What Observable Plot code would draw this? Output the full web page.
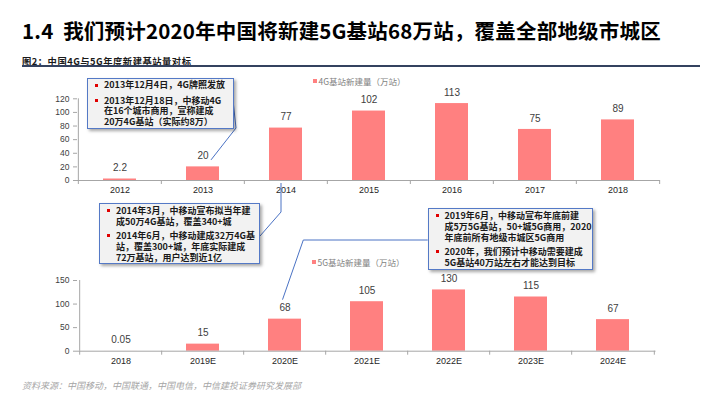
<!DOCTYPE html>
<html>
<head>
<meta charset="utf-8">
<script src="https://cdn.jsdelivr.net/npm/d3@7"></script>
<script src="https://cdn.jsdelivr.net/npm/@observablehq/plot@0.6"></script>
<style>
  body { margin: 0; background: #fff; }
  #root { position: relative; width: 720px; height: 405px; overflow: hidden; background: #fff;
          font-family: "Liberation Sans", Arial, "Noto Sans CJK SC", sans-serif; }
  .abs { position: absolute; }
  .title { left: 22px; top: 16px; font: bold 20.5px/28px "Noto Sans CJK SC", sans-serif; letter-spacing: 0.2px; color: #000; white-space: nowrap; }
  .subtitle { left: 22px; top: 55px; font: bold 9.3px/12px "Noto Sans CJK SC", sans-serif; letter-spacing: 0.5px; color: #1a1a1a; white-space: nowrap; }
  .subline { left: 22px; top: 65px; width: 678px; height: 1.6px; background: #34425f; }
  .legend { font: 8.5px/10px "Noto Sans CJK SC", sans-serif; color: #7f7f7f; white-space: nowrap; display: flex; align-items: center; }
  .legend i { display: inline-block; width: 4px; height: 4px; background: #ff8080; margin-right: 1.5px; }
  .plot { left: 0; }
  .box { box-sizing: border-box; background: #f2f2f2; border: 1.5px solid #5479c6;
         box-shadow: 2px 2px 3px rgba(0,0,0,0.35); z-index: 3;
         font: bold 9px "Noto Sans CJK SC", sans-serif; color: #1a1a1a; white-space: nowrap; padding-left: 16px; }
  .box .p { position: relative; }
  .box .p::before { content: ""; position: absolute; left: -9px; top: var(--top); width: 3px; height: 3px; background: #e00000; }
  .footer { left: 22px; top: 380px; font: italic 9px/12px "Noto Sans CJK SC", sans-serif; color: #a6a6a6; white-space: nowrap; }
  #links { position: absolute; left: 0; top: 0; z-index: 2; pointer-events: none; }
</style>
</head>
<body>
<div id="root">
  <div class="abs title">1.4&nbsp;&nbsp;我们预计2020年中国将新建5G基站68万站，覆盖全部地级市城区</div>
  <div class="abs subtitle">图2：中国4G与5G年度新建基站量对标</div>
  <div class="abs subline"></div>

  <div class="abs legend" style="left:313px; top:76px;"><i></i>4G基站新建量（万站）</div>
  <div class="abs legend" style="left:312px; top:257px;"><i></i>5G基站新建量（万站）</div>

  <div id="top" class="abs plot" style="top:70px;"></div>
  <div id="bottom" class="abs plot" style="top:270px;"></div>

  <div class="abs box" style="left:87px; top:77.5px; width:146.5px; height:51px; line-height:10.5px; padding-top:1.5px;">
    <div class="p">2013年12月4日，4G牌照发放</div>
    <div class="p" style="margin-top:5.2px">2013年12月18日，中移动4G<br>在16个城市商用，宣称建成<br>20万4G基站（实际约8万）</div>
  </div>

  <div class="abs box" style="left:99px; top:202.5px; width:160.5px; height:61.5px; line-height:11px; padding-top:1px;">
    <div class="p">2014年3月，中移动宣布拟当年建<br>成50万4G基站，覆盖340+城</div>
    <div class="p" style="margin-top:3.3px">2014年6月，中移动建成32万4G基<br>站，覆盖300+城，年底实际建成<br>72万基站，用户达到近1亿</div>
  </div>

  <div class="abs box" style="left:427.5px; top:208px; width:165.5px; height:62px; line-height:11px; padding-top:0.7px;">
    <div class="p">2019年6月，中移动宣布年底前建<br>成5万5G基站，50+城5G商用，2020<br>年底前所有地级市城区5G商用</div>
    <div class="p" style="margin-top:3.4px">2020年，我们预计中移动需要建成<br>5G基站40万站左右才能达到目标</div>
  </div>

  <svg id="links" width="720" height="405"></svg>

  <div class="abs footer">资料来源：中国移动，中国联通，中国电信，中信建投证券研究发展部</div>
</div>

<script>
// ---- data ----
const years4G = ["2012", "2013", "2014", "2015", "2016", "2017", "2018"];
const values4G = [2.2, 20, 77, 102, 113, 75, 89];
const ticks4G = [0, 20, 40, 60, 80, 100, 120];

const years5G = ["2018", "2019E", "2020E", "2021E", "2022E", "2023E", "2024E"];
const values5G = [0.05, 15, 68, 105, 130, 115, 67];
const ticks5G = [0, 50, 100, 150];

const BAR = "#ff8080";
const AXIS = "#a6a6a6";

function makeChart(cats, vals, ticks, o) {
  const data = cats.map((c, i) => ({cat: c, val: vals[i]}));
  const yMax = ticks[ticks.length - 1];
  const step = (720 - o.ml - o.mr) / cats.length;
  return Plot.plot({
    width: 720,
    height: o.h,
    marginLeft: o.ml,
    marginRight: o.mr,
    marginTop: o.mt,
    marginBottom: o.mb,
    x: {domain: cats, paddingInner: 0.6, paddingOuter: 0.3, label: null},
    y: {domain: [0, yMax], label: null},
    style: {fontFamily: "'Liberation Sans', Arial, sans-serif", fontSize: "9px", color: "#262626",
            background: "transparent", overflow: "visible"},
    marks: [
      Plot.barY(data, {x: "cat", y: "val", fill: BAR}),
      Plot.ruleY([0], {stroke: AXIS}),
      Plot.ruleX([cats[0]], {x: d => d, y1: 0, y2: yMax, dx: -step / 2, stroke: AXIS}),
      Plot.ruleX(cats, {x: d => d, y1: 0, y2: 0, insetBottom: -4, dx: -step / 2, stroke: AXIS}),
      Plot.ruleX([cats[cats.length - 1]], {x: d => d, y1: 0, y2: 0, insetBottom: -4, dx: step / 2, stroke: AXIS}),
      Plot.axisY(ticks, {tickSize: 4, tickPadding: 4, stroke: AXIS, fill: "#404040", fontSize: 8.5}),
      Plot.axisX({tickSize: 0, tickPadding: 6, fill: "#262626", fontSize: 9}),
      Plot.text(data, {x: "cat", y: "val", text: d => String(d.val), dy: -11, fontSize: 10, fill: "#404040"})
    ]
  });
}

const topChart = makeChart(years4G, values4G, ticks4G, {h: 130, ml: 77, mr: 60, mt: 28.3, mb: 20});
const botChart = makeChart(years5G, values5G, ticks5G, {h: 105, ml: 77, mr: 64.5, mt: 10, mb: 24.3});
document.getElementById("top").appendChild(topChart);
document.getElementById("bottom").appendChild(botChart);

// ---- connector lines, anchored to the scales ----
function pos(chart, offsetTop) {
  const x = chart.scale("x"), y = chart.scale("y");
  return {
    cx: c => x.apply(c) + x.bandwidth / 2,
    y: v => offsetTop + y.apply(v)
  };
}
const T = pos(topChart, 70), B = pos(botChart, 270);
const links = [
  [[233.3, 103], [236, 128], [T.cx("2013") + 8.5, T.y(20) - 6.5]],
  [[T.cx("2014") - 4.5, T.y(0) + 3], [T.cx("2014") - 4.5, T.y(0) + 32], [260, 236]],
  [[427.7, 240], [303.3, 240], [B.cx("2020E") - 2, B.y(68) - 19]]
];
const svg = d3.select("#links");
svg.selectAll("polyline").data(links).join("polyline")
  .attr("points", d => d.map(p => p.join(",")).join(" "))
  .attr("fill", "none").attr("stroke", "#4a72c4").attr("stroke-width", 1);

// bullets aligned to first line
document.querySelectorAll(".box .p").forEach(p => {
  const lh = parseFloat(getComputedStyle(p.parentElement).lineHeight);
  p.style.setProperty("--top", (lh / 2 - 1.5) + "px");
});
</script>
</body>
</html>
